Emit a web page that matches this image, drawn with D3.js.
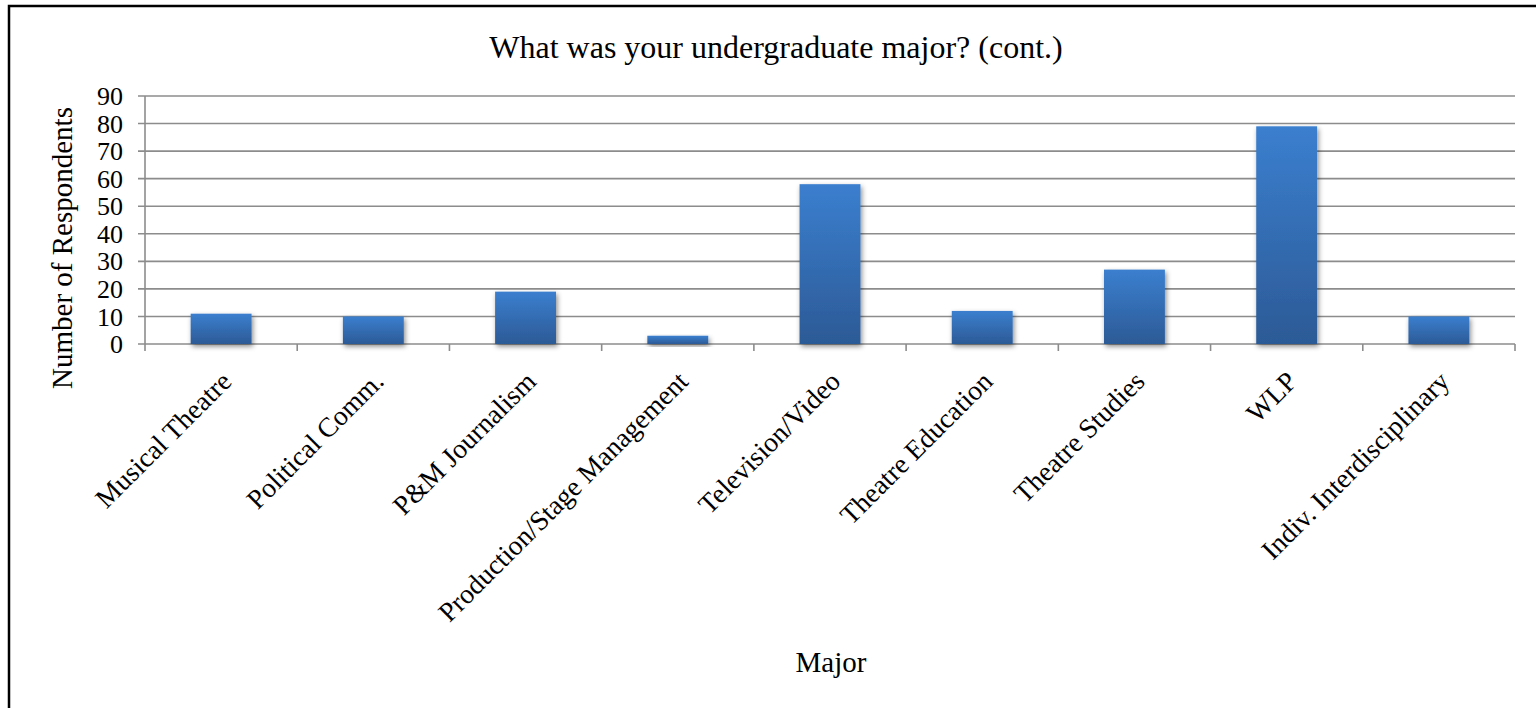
<!DOCTYPE html>
<html><head><meta charset="utf-8">
<script src="https://cdn.jsdelivr.net/npm/d3@7"></script>
<style>
html,body{margin:0;padding:0;background:#fff;overflow:hidden}
text{font-family:"Liberation Serif","Times New Roman",serif;fill:#000}
</style></head><body>
<svg id="chart" width="1536" height="708"></svg>
<script>
const categories = ["Musical Theatre","Political Comm.","P&M Journalism","Production/Stage Management","Television/Video","Theatre Education","Theatre Studies","WLP","Indiv. Interdisciplinary"];
const values = [11,10,19,3,58,12,27,79,10];
const yTicks = [0,10,20,30,40,50,60,70,80,90];
const title = "What was your undergraduate major? (cont.)";
const xTitle = "Major";
const yTitle = "Number of Respondents";

const svg = d3.select("#chart");
const m = {left:145, right:1515, top:96, bottom:344};

const defs = svg.append("defs");
const grad = defs.append("linearGradient").attr("id","barGrad").attr("x1",0).attr("y1",0).attr("x2",0).attr("y2",1);
grad.append("stop").attr("offset","0%").attr("stop-color","#3b7fcf");
grad.append("stop").attr("offset","100%").attr("stop-color","#2c5a96");
const f = defs.append("filter").attr("id","shadow").attr("x","-20%").attr("y","-20%").attr("width","150%").attr("height","150%");
f.append("feDropShadow").attr("dx",1.5).attr("dy",2.5).attr("stdDeviation",2.5).attr("flood-color","#000").attr("flood-opacity",0.45);

// frame
svg.append("rect").attr("x",9).attr("y",6).attr("width",1540).attr("height",720)
  .attr("fill","none").attr("stroke","#000").attr("stroke-width",2.5);

const x = d3.scaleBand().domain(categories).range([m.left,m.right]).paddingInner(0.6).paddingOuter(0.3);
const xb = d3.scaleBand().domain(categories).range([m.left,m.right]);
const y = d3.scaleLinear().domain([0,90]).range([m.bottom,m.top]);

// gridlines
svg.append("g").selectAll("line").data(yTicks).join("line")
  .attr("x1",138).attr("x2",m.right).attr("y1",d=>y(d)).attr("y2",d=>y(d))
  .attr("stroke","#8c8c8c").attr("stroke-width",1.6);

// y axis line
svg.append("line").attr("x1",m.left).attr("x2",m.left).attr("y1",m.top).attr("y2",m.bottom)
  .attr("stroke","#8c8c8c").attr("stroke-width",1.6);
// x ticks
const bounds = categories.map(c=>xb(c)).concat([m.right]);
svg.append("g").selectAll("line").data(bounds).join("line")
  .attr("x1",d=>d).attr("x2",d=>d).attr("y1",m.bottom).attr("y2",m.bottom+7)
  .attr("stroke","#8c8c8c").attr("stroke-width",1.6);

// bars
svg.append("g").selectAll("rect").data(values).join("rect")
  .attr("x",(d,i)=>x(categories[i])).attr("width",x.bandwidth())
  .attr("y",d=>y(d)).attr("height",d=>y(0)-y(d))
  .attr("fill","url(#barGrad)").attr("filter","url(#shadow)");

// y tick labels
svg.append("g").selectAll("text").data(yTicks).join("text")
  .attr("x",123).attr("y",d=>y(d)).attr("dy","0.35em").attr("text-anchor","end")
  .attr("font-size",26).text(d=>d);

// x labels
svg.append("g").selectAll("text").data(categories).join("text")
  .attr("text-anchor","end").attr("font-size",27.5)
  .attr("transform",c=>`translate(${xb(c)+xb.bandwidth()/2+12},${m.bottom+39}) rotate(-45)`)
  .text(c=>c);

svg.append("text").attr("x",776).attr("y",58).attr("text-anchor","middle").attr("font-size",32).text(title);
svg.append("text").attr("x",831).attr("y",672).attr("text-anchor","middle").attr("font-size",29).text(xTitle);
svg.append("text").attr("transform","translate(72,248) rotate(-90)").attr("text-anchor","middle").attr("font-size",29).text(yTitle);
</script></body></html>
